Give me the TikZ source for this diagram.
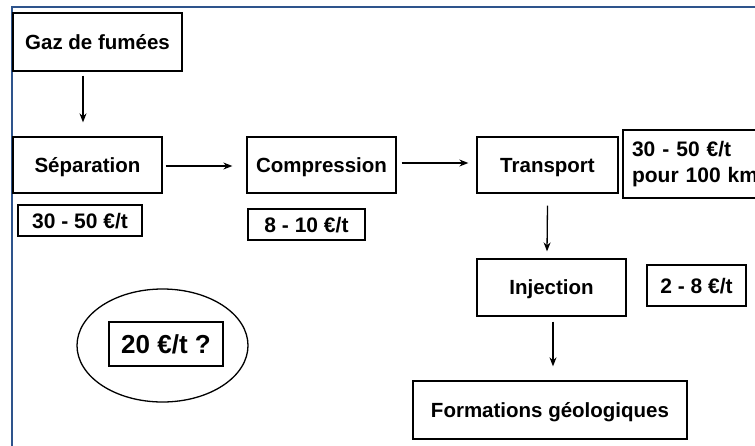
\documentclass[tikz,border=0pt]{standalone}
\usepackage{fontspec}
\setmainfont{Liberation Sans}
\usetikzlibrary{shapes.geometric,arrows.meta}
\definecolor{frameblue}{RGB}{46,84,140}
\begin{document}
\begin{tikzpicture}[x=1pt,y=-1pt,
  box/.style={draw, line width=1.3pt, inner sep=0pt, text height=14.7pt, text depth=0pt, font=\bfseries\fontsize{20.5}{24}\selectfont},
  cost/.style={draw, line width=1.3pt, inner sep=0pt, font=\bfseries\fontsize{21}{26}\selectfont},
  onecost/.style={cost, text height=15pt, text depth=0pt},
  arr/.style={line width=1.3pt, -{Stealth[length=9pt,width=7pt]}}]
\useasboundingbox (0,0) rectangle (755,445);
\clip (0,0) rectangle (755,445);
\draw[frameblue, line width=2pt] (12,460) -- (12,7) -- (770,7);
\node[box, minimum width=169pt, minimum height=58pt] (gaz) at (97.5,42) {Gaz de fumées};
\node[box, minimum width=149pt, minimum height=56pt] (sep) at (87.5,165) {Séparation};
\node[box, minimum width=149pt, minimum height=56pt] (comp) at (321.5,165) {Compression};
\node[box, minimum width=141pt, minimum height=56pt] (trans) at (547.5,165) {Transport};
\node[cost, minimum height=68pt, text width=135pt, inner xsep=9pt, align=left] (tcost) at (699.5,164) {30 - 50 €/t\\pour 100 km};
\node[onecost, minimum width=124pt, minimum height=31pt] (c1) at (80,220.5) {30 - 50 €/t};
\node[onecost, minimum width=117pt, minimum height=31pt] (c2) at (306.5,224.5) {8 - 10 €/t};
\node[box, minimum width=149pt, minimum height=57pt] (inj) at (551.5,287.5) {Injection};
\node[onecost, minimum width=99pt, minimum height=41pt] (c4) at (696.5,285.5) {2 - 8 €/t};
\node[box, minimum width=274pt, minimum height=58pt] (form) at (550,410) {Formations géologiques};
\node[draw, ellipse, line width=1.3pt, minimum width=171pt, minimum height=113pt] (ell) at (162.5,345.5) {};
\node[draw, line width=1.3pt, inner sep=0pt, minimum width=114pt, minimum height=44pt, text height=18.6pt, text depth=0pt, font=\bfseries\fontsize{26}{30}\selectfont] (c5) at (166,344) {20 €/t ?};
\draw[arr] ([xshift=-14.5pt,yshift=-4pt]gaz.south) -- ([xshift=-4.5pt,yshift=14pt]sep.north);
\draw[arr] ([xshift=3pt,yshift=-1pt]sep.east) -- ([xshift=-14pt,yshift=-1pt]comp.west);
\draw[arr] ([xshift=5pt,yshift=2pt]comp.east) -- ([xshift=-8pt,yshift=2pt]trans.west);
\draw[arr] ([yshift=-12pt]trans.south) -- ([xshift=-4.5pt,yshift=7pt]inj.north);
\draw[arr] ([xshift=1.5pt,yshift=-5pt]inj.south) -- ([xshift=3pt,yshift=14pt]form.north);
\end{tikzpicture}
\end{document}
